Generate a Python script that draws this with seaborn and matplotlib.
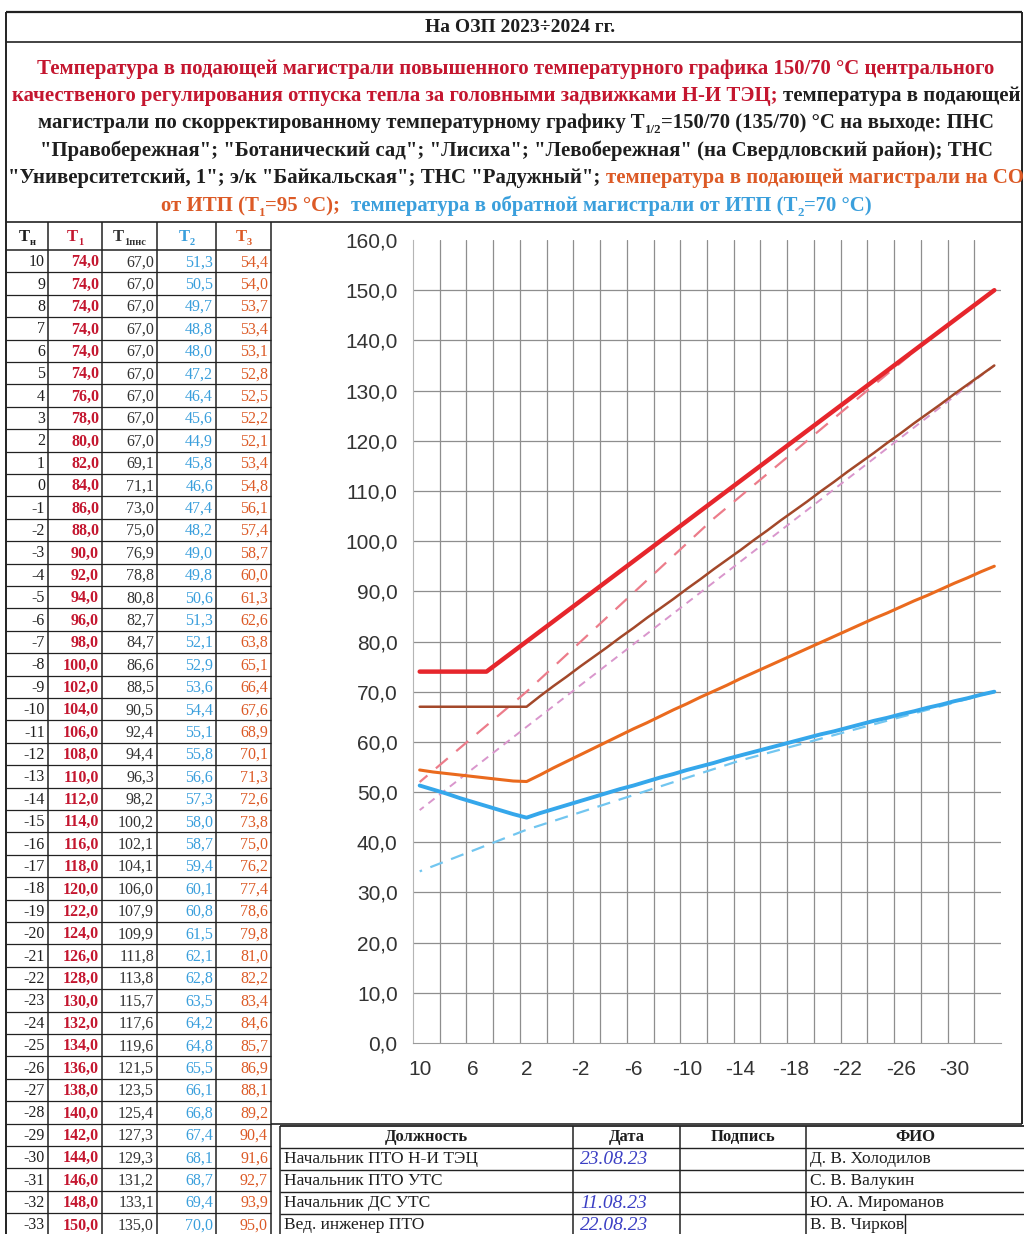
import numpy as np
import pandas as pd
import seaborn as sns
import matplotlib.pyplot as plt

# outdoor temperature (table rows / chart categories)
tn = [10, 9, 8, 7, 6, 5, 4, 3, 2, 1, 0, -1, -2, -3, -4, -5, -6, -7, -8, -9, -10,
      -11, -12, -13, -14, -15, -16, -17, -18, -19, -20, -21, -22, -23, -24, -25,
      -26, -27, -28, -29, -30, -31, -32, -33]
t1 = [74.0, 74.0, 74.0, 74.0, 74.0, 74.0, 76.0, 78.0, 80.0, 82.0, 84.0, 86.0, 88.0,
      90.0, 92.0, 94.0, 96.0, 98.0, 100.0, 102.0, 104.0, 106.0, 108.0, 110.0, 112.0,
      114.0, 116.0, 118.0, 120.0, 122.0, 124.0, 126.0, 128.0, 130.0, 132.0, 134.0,
      136.0, 138.0, 140.0, 142.0, 144.0, 146.0, 148.0, 150.0]
t1_pns = [67.0, 67.0, 67.0, 67.0, 67.0, 67.0, 67.0, 67.0, 67.0, 69.1, 71.1, 73.0, 75.0,
          76.9, 78.8, 80.8, 82.7, 84.7, 86.6, 88.5, 90.5, 92.4, 94.4, 96.3, 98.2,
          100.2, 102.1, 104.1, 106.0, 107.9, 109.9, 111.8, 113.8, 115.7, 117.6, 119.6,
          121.5, 123.5, 125.4, 127.3, 129.3, 131.2, 133.1, 135.0]
t2 = [51.3, 50.5, 49.7, 48.8, 48.0, 47.2, 46.4, 45.6, 44.9, 45.8, 46.6, 47.4, 48.2,
      49.0, 49.8, 50.6, 51.3, 52.1, 52.9, 53.6, 54.4, 55.1, 55.8, 56.6, 57.3, 58.0,
      58.7, 59.4, 60.1, 60.8, 61.5, 62.1, 62.8, 63.5, 64.2, 64.8, 65.5, 66.1, 66.8,
      67.4, 68.1, 68.7, 69.4, 70.0]
t3 = [54.4, 54.0, 53.7, 53.4, 53.1, 52.8, 52.5, 52.2, 52.1, 53.4, 54.8, 56.1, 57.4,
      58.7, 60.0, 61.3, 62.6, 63.8, 65.1, 66.4, 67.6, 68.9, 70.1, 71.3, 72.6, 73.8,
      75.0, 76.2, 77.4, 78.6, 79.8, 81.0, 82.2, 83.4, 84.6, 85.7, 86.9, 88.1, 89.2,
      90.4, 91.6, 92.7, 93.9, 95.0]

# dashed reference curves
ref150_x = [10, 2, -12, -28, -33]
ref150_y = [52.0, 70.0, 104.5, 140.0, 150.0]
ref135_x = [10, 2, -33]
ref135_y = [46.4, 63.0, 135.0]
ret_x = [10, 2, -14, -33]
ret_y = [34.2, 42.5, 56.3, 70.0]

xlabels = [10, 6, 2, -2, -6, -10, -14, -18, -22, -26, -30]

sig_roles = ["Начальник ПТО Н-И ТЭЦ", "Начальник ПТО УТС", "Начальник ДС УТС", "Вед. инженер ПТО"]
sig_dates = ["23.08.23", "", "11.08.23", "22.08.23"]
sig_names = ["Д. В. Холодилов", "С. В. Валукин", "Ю. А. Мироманов", "В. В. Чирков"]

RED = '#c4162f'
BLACK = '#1e1e1e'
ORANGE = '#dc5a26'
BLUE = '#3a9fdc'
GRAY = '#333333'

W, H = 1024, 1234
sns.set_style('white')
plt.rcParams['font.family'] = ['Liberation Serif', 'DejaVu Serif']

fig = plt.figure(figsize=(W / 100, H / 100), dpi=100)
fig.patch.set_facecolor('white')
ov = fig.add_axes([0, 0, 1, 1])
ov.set_xlim(0, W)
ov.set_ylim(H, 0)
ov.axis('off')
renderer = fig.canvas.get_renderer()


def text_w(s, size, weight='bold'):
    t = ov.text(0, 0, s, fontsize=size, fontweight=weight)
    w = t.get_window_extent(renderer).width
    t.remove()
    return w


def rich_line(pieces, xc, yb, size, weight='bold', measure=False):
    # pieces: (text, color, is_sub, spaces_before)
    sp = text_w('a a', size, weight) - text_w('aa', size, weight)
    items = []
    x = 0
    for s, col, sub, gap in pieces:
        x += gap * sp
        fs = size * 0.62 if sub else size
        t = ov.text(0, yb + (size * 0.35 if sub else 0), s, color=col, fontsize=fs,
                    fontweight=weight, ha='left', va='baseline')
        w = t.get_window_extent(renderer).width
        items.append((t, x))
        x += w
    if measure:
        for t, _ in items:
            t.remove()
        return x
    x0 = xc - x / 2
    for t, off in items:
        t.set_x(x0 + off)
    return x


def hline(y, x0, x1, lw=1.0, c='#222222'):
    ov.plot([x0, x1], [y, y], color=c, lw=lw, solid_capstyle='butt')


def vline(x, y0, y1, lw=1.0, c='#222222'):
    ov.plot([x, x], [y0, y1], color=c, lw=lw, solid_capstyle='butt')


# outer frame
hline(12, 6, 1022, 1.6)
hline(42, 6, 1022, 1.2)
hline(222, 6, 1022, 1.2)
vline(6, 12, H, 1.4)
vline(1022, 12, 1124, 1.4)

ov.text(520, 27, "На ОЗП 2023÷2024 гг.", fontsize=14, fontweight='bold',
        color=BLACK, ha='center', va='center')

title_lines = [
    [("Температура в подающей магистрали повышенного температурного графика 150/70 °C центрального", RED, False, 0)],
    [("качественого регулирования отпуска тепла за головными задвижками Н-И ТЭЦ;", RED, False, 0),
     ("температура в подающей", BLACK, False, 1)],
    [("магистрали по скорректированному температурному графику T", BLACK, False, 0),
     ("1/2", BLACK, True, 0), ("=150/70 (135/70) °C на выходе: ПНС", BLACK, False, 0)],
    [('"Правобережная"; "Ботанический сад"; "Лисиха"; "Левобережная" (на Свердловский район); ТНС', BLACK, False, 0)],
    [('"Университетский, 1"; э/к "Байкальская"; ТНС "Радужный";', BLACK, False, 0),
     ("температура в подающей магистрали на СО", ORANGE, False, 1)],
    [("от ИТП (T", ORANGE, False, 0), ("1", ORANGE, True, 0), ("=95 °C);", ORANGE, False, 0),
     ("температура в обратной магистрали от ИТП (T", BLUE, False, 2), ("2", BLUE, True, 0),
     ("=70 °C)", BLUE, False, 0)],
]
w15 = rich_line(title_lines[1], 0, 0, 15, measure=True)
tsize = 15 * 1006 / w15
title_y = [68, 95, 122, 150, 177, 205]
for pieces, yc in zip(title_lines, title_y):
    rich_line(pieces, 516, yc + 6, tsize)

# left data table
col_edges = [6, 48, 102, 157, 216, 271]
row0, rh = 250, 22.4
for x in col_edges[1:]:
    vline(x, 222, H, 1.1)
hline(row0, 6, 271, 1.1)
for i in range(len(tn)):
    hline(row0 + rh * (i + 1), 6, 271, 0.9)

headers = [
    [("T", BLACK, False, 0), ("н", BLACK, True, 0)],
    [("T", RED, False, 0), ("1", RED, True, 0)],
    [("T", GRAY, False, 0), ("1пнс", GRAY, True, 0)],
    [("T", BLUE, False, 0), ("2", BLUE, True, 0)],
    [("T", ORANGE, False, 0), ("3", ORANGE, True, 0)],
]
for k, pieces in enumerate(headers):
    rich_line(pieces, (col_edges[k] + col_edges[k + 1]) / 2, 241, 12)


def fmt(v):
    return f"{v:.1f}".replace('.', ',')


cols = [([str(v) for v in tn], BLACK, 'normal'),
        ([fmt(v) for v in t1], RED, 'bold'),
        ([fmt(v) for v in t1_pns], GRAY, 'normal'),
        ([fmt(v) for v in t2], BLUE, 'normal'),
        ([fmt(v) for v in t3], ORANGE, 'normal')]
for k, (vals, col, wt) in enumerate(cols):
    for i, s in enumerate(vals):
        ov.text(col_edges[k + 1] - 3, row0 + rh * (i + 0.5) + 1, s, fontsize=11.5,
                fontweight=wt, color=col, ha='right', va='center')

# chart cell bottom and signature table
hline(1124, 271, 1022, 1.2)
sx = [280, 573, 680, 806, 1024]
sy = [1126, 1148, 1170, 1192, 1214]
for y in sy[1:]:
    hline(y, 280, 1024, 1.0)
hline(sy[0], 280, 1024, 1.3)
for x in sx[:-1]:
    vline(x, sy[0], H, 1.1)
vline(905, 1214, H, 1.0)
for k, s in enumerate(["Должность", "Дата", "Подпись", "ФИО"]):
    ov.text((sx[k] + sx[k + 1]) / 2, 1137, s, fontsize=12, fontweight='bold',
            color=BLACK, ha='center', va='center')
for i in range(4):
    yc = sy[i] + 33
    ov.text(284, yc, sig_roles[i], fontsize=12.5, color=BLACK, ha='left', va='center')
    ov.text(810, yc, sig_names[i], fontsize=12.5, color=BLACK, ha='left', va='center')
    if sig_dates[i]:
        ov.text(580, yc, sig_dates[i], fontsize=14, style='italic', color='#3b3fc4',
                ha='left', va='center')

# chart
ax = fig.add_axes([413 / W, 1 - 1043 / H, 588 / W, 803 / H])
ax.patch.set_alpha(0)
df = pd.DataFrame({'tn': tn, 'T1': t1, 'T1pns': t1_pns, 'T2': t2, 'T3': t3})

for v in range(10, 160, 10):
    ax.axhline(v, color='#8e8e8e', lw=0.9, zorder=0)
for v in np.arange(8.5, -33, -2):
    ax.axvline(v, color='#8e8e8e', lw=0.9, zorder=0)

sns.lineplot(x=ret_x, y=ret_y, color='#72c6f0', lw=1.6, linestyle=(0, (6, 4)), ax=ax, zorder=2)
sns.lineplot(x=ref135_x, y=ref135_y, color='#d996cc', lw=1.4, linestyle=(0, (4, 3)), ax=ax, zorder=2)
sns.lineplot(x=ref150_x, y=ref150_y, color='#ec7c8a', lw=1.6, linestyle=(0, (7, 5)), ax=ax, zorder=2)
sns.lineplot(data=df, x='tn', y='T2', color='#35a7eb', lw=2.8, ax=ax, zorder=3)
sns.lineplot(data=df, x='tn', y='T3', color='#ea6a1e', lw=2.2, ax=ax, zorder=3)
sns.lineplot(data=df, x='tn', y='T1pns', color='#a3482a', lw=1.8, ax=ax, zorder=3)
sns.lineplot(data=df, x='tn', y='T1', color='#e6262c', lw=3.2, ax=ax, zorder=4)

ax.set_xlim(10.5, -33.5)
ax.set_ylim(0, 160)
ax.set_xlabel('')
ax.set_ylabel('')

ax.set_xticks(np.arange(10.5, -34, -1))
ax.set_xticklabels([])
ax.tick_params(axis='x', which='major', direction='inout', length=9, width=1, color='#9a9a9a')
ax.set_xticks(xlabels, minor=True)
ax.set_xticklabels([str(v) for v in xlabels], minor=True, fontsize=15,
                   family='Liberation Sans', color=GRAY)
ax.tick_params(axis='x', which='minor', length=0, pad=12)

yt = list(range(0, 161, 10))
ax.set_yticks(yt)
ax.set_yticklabels([fmt(v) for v in yt], fontsize=15, family='Liberation Sans', color=GRAY)
ax.tick_params(axis='y', direction='out', length=4, width=1, color='#9a9a9a', pad=7)

for s in ['top', 'right']:
    ax.spines[s].set_visible(False)
ax.spines['left'].set_color('#b5b5b5')
ax.spines['bottom'].set_color('#9a9a9a')

fig.savefig('out.png', dpi=100, facecolor='white')
